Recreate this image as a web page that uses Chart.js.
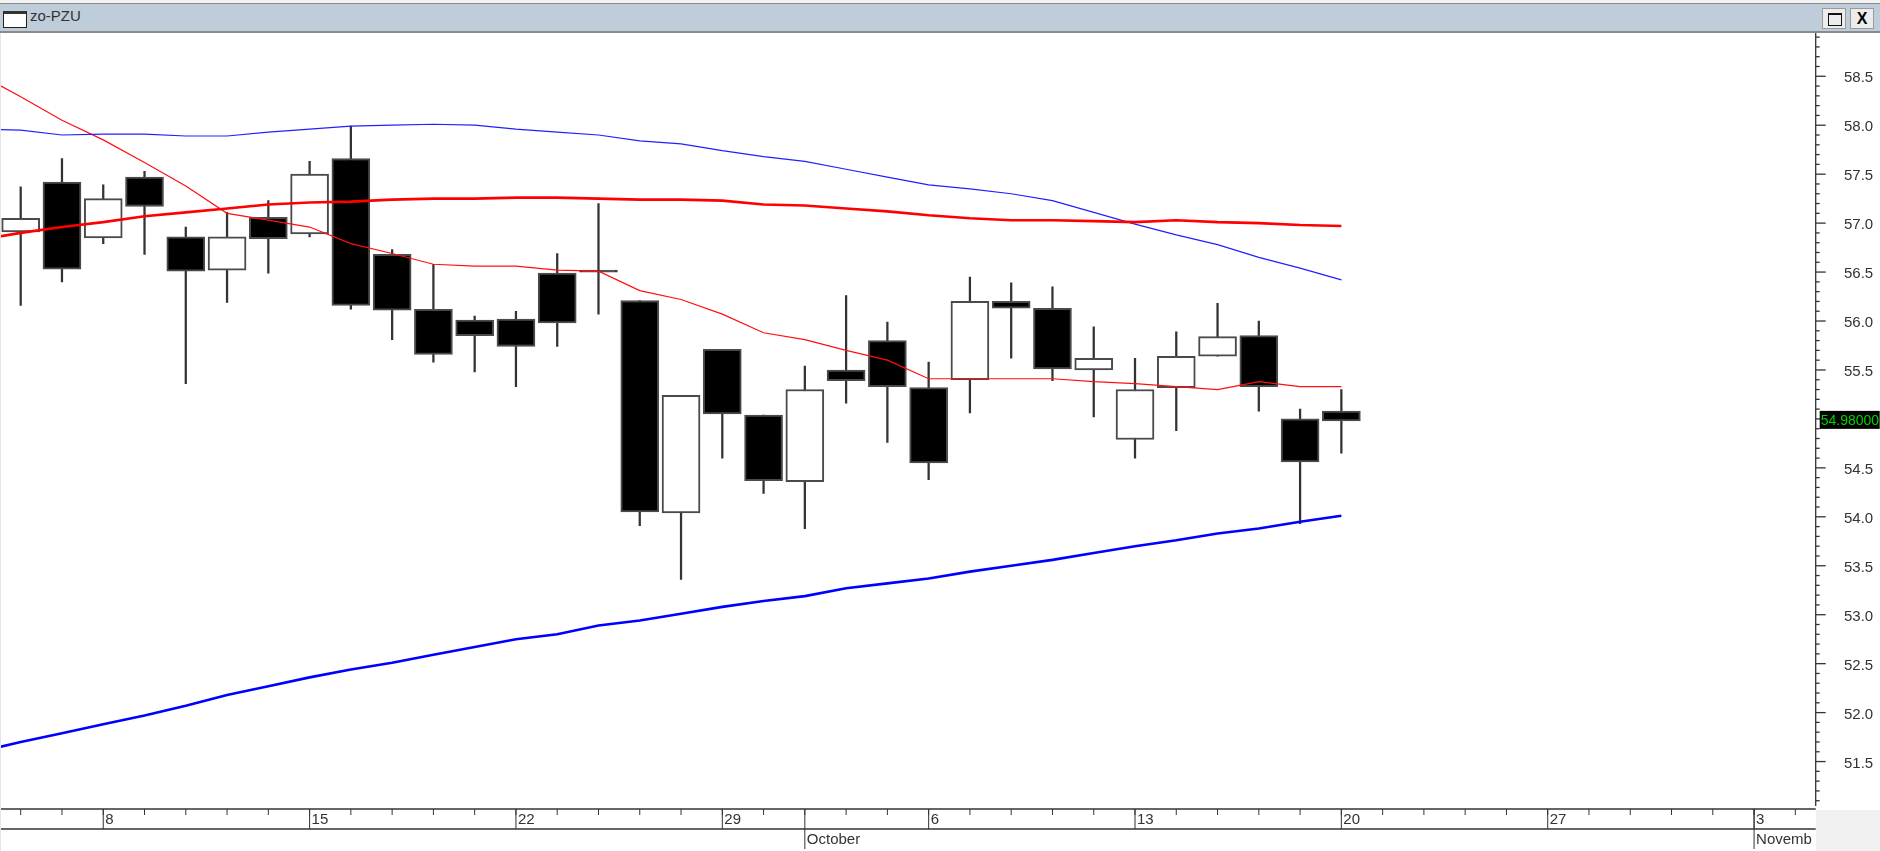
<!DOCTYPE html>
<html>
<head>
<meta charset="utf-8">
<title>zo-PZU</title>
<script src="https://cdn.jsdelivr.net/npm/chart.js@4"></script>
<style>
    html, body { margin: 0; padding: 0; background: #fff; overflow: hidden; }
    body { width: 1880px; height: 851px; position: relative; font-family: "Liberation Sans", Arial, sans-serif; }
    #chart { position: absolute; left: 0; top: 0; }
    #top-strip { position: absolute; left: 0; top: 0; width: 1880px; height: 4px; background: #f2f2f2; border-bottom: 1px solid #8c8c8c; box-sizing: border-box; }
    #title-bar { position: absolute; left: 0; top: 4px; width: 1880px; height: 29px; background: #bfcddb; border-bottom: 2px solid #8a8a8a; box-sizing: border-box; }
    #title-icon { position: absolute; left: 3px; top: 7px; width: 22px; height: 13px; background: #fff; border: 1px solid #222; border-top: 3px solid #333; }
    #title-text { position: absolute; left: 30px; top: 2px; font-size: 15px; line-height: 20px; color: #333; }
    .win-btn { position: absolute; top: 4px; width: 24px; height: 21px; background: #ececec; border: 1px solid #9a9a9a; box-sizing: border-box; text-align: center; color: #000; }
    #btn-max { left: 1822px; }
    #btn-max div { position: absolute; left: 5px; top: 4px; width: 12px; height: 10px; border: 1px solid #111; border-top: 2px solid #111; }
    #btn-close { left: 1850px; font: bold 16px/19px "Liberation Sans", Arial, sans-serif; }
    #corner { position: absolute; left: 1816px; top: 810px; width: 64px; height: 41px; background: #f0f0f0; }
    #left-edge { position: absolute; left: 0; top: 33px; width: 1px; height: 818px; background: #e6e6e6; }
</style>
</head>
<body>
<canvas id="chart" width="1880" height="851"></canvas>
<div id="left-edge"></div>
<div id="corner"></div>
<div id="top-strip"></div>
<div id="title-bar">
    <div id="title-icon"></div>
    <div id="title-text">zo-PZU</div>
    <div class="win-btn" id="btn-max"><div></div></div>
    <div class="win-btn" id="btn-close">X</div>
</div>
<script>
// candles, Sep 4 .. Oct 20, one per trading day
const opens = [56.91, 57.42, 56.85, 57.47, 56.86, 56.52, 57.06, 56.89, 57.66, 56.68, 56.12, 56.01, 56.02, 56.49, 56.52,
    56.21, 54.04, 55.71, 55.04, 54.36, 55.50, 55.80, 55.32, 55.40, 56.20, 56.13, 55.50, 54.79, 55.32, 55.64, 55.85, 55.00, 55.08];
const closes = [57.05, 56.53, 57.25, 57.17, 56.51, 56.86, 56.84, 57.50, 56.16, 56.11, 55.66, 55.85, 55.74, 55.98, 56.50,
    54.05, 55.24, 55.05, 54.37, 55.30, 55.39, 55.33, 54.55, 56.20, 56.13, 55.51, 55.62, 55.30, 55.64, 55.84, 55.33, 54.56, 54.98];
const highs = [57.37, 57.66, 57.39, 57.53, 56.96, 57.11, 57.23, 57.63, 57.99, 56.73, 56.58, 56.05, 56.10, 56.69, 57.20,
    56.21, 55.24, 55.71, 55.04, 55.54, 56.26, 55.99, 55.58, 56.45, 56.39, 56.35, 55.94, 55.62, 55.89, 56.18, 56.00, 55.10, 55.30];
const lows = [56.16, 56.40, 56.79, 56.68, 55.36, 56.19, 56.49, 56.86, 56.12, 55.81, 55.58, 55.48, 55.33, 55.74, 56.07,
    53.91, 53.36, 54.60, 54.24, 53.88, 55.16, 54.76, 54.38, 55.06, 55.62, 55.39, 55.02, 54.60, 54.88, 55.64, 55.08, 53.93, 54.65];

// indicator lines start one bar before the first candle (clipped by the chart edge)
const redThin = [58.52, 58.29, 58.05, 57.85, 57.62, 57.38, 57.10, 57.03, 56.96, 56.79, 56.69, 56.58, 56.56, 56.56, 56.52, 56.51,
    56.31, 56.22, 56.07, 55.88, 55.81, 55.70, 55.60, 55.41, 55.41, 55.41, 55.41, 55.38, 55.36, 55.33, 55.30, 55.38, 55.33, 55.33];
const redThick = [56.83, 56.90, 56.96, 57.01, 57.07, 57.11, 57.15, 57.19, 57.21, 57.22, 57.24, 57.25, 57.25, 57.26, 57.26, 57.25,
    57.24, 57.24, 57.23, 57.19, 57.18, 57.15, 57.12, 57.08, 57.05, 57.03, 57.03, 57.02, 57.01, 57.03, 57.01, 57.00, 56.98, 56.97];
const blueThin = [57.96, 57.95, 57.90, 57.91, 57.91, 57.89, 57.89, 57.93, 57.96, 57.99, 58.00, 58.01, 58.00, 57.96, 57.93, 57.90,
    57.84, 57.81, 57.74, 57.68, 57.63, 57.55, 57.47, 57.39, 57.35, 57.30, 57.23, 57.11, 56.99, 56.88, 56.78, 56.65, 56.54, 56.42];
const blueThick = [51.60, 51.70, 51.79, 51.88, 51.97, 52.07, 52.18, 52.27, 52.36, 52.44, 52.51, 52.59, 52.67, 52.75, 52.80, 52.89,
    52.94, 53.01, 53.08, 53.14, 53.19, 53.27, 53.32, 53.37, 53.44, 53.50, 53.56, 53.63, 53.70, 53.76, 53.83, 53.88, 53.95, 54.01];

// axis labels
const dayLabels = ['8', '15', '22', '29', '6', '13', '20', '27', '3'];
const dayBars = [2, 7, 12, 17, 22, 27, 32, 37, 42];
const monthLabels = ['October', 'Novemb'];
const monthBars = [19, 42];
const priceLabels = ['51.5', '52.0', '52.5', '53.0', '53.5', '54.0', '54.5', '55.0', '55.5', '56.0', '56.5', '57.0', '57.5', '58.0', '58.5'];
const lastPrice = 54.98;
const lastPriceLabel = '54.98000';

const barCount = 44;
const axisColor = '#333';

function toPoints(values) {
    return values.map(function(v, i) {
        return { x: i - 1, y: v };
    });
}

function lineSet(values, color, width) {
    return {
        type: 'line',
        data: toPoints(values),
        borderColor: color,
        borderWidth: width,
        pointRadius: 0,
        tension: 0,
        order: 0
    };
}

const axisPlugin = {
    id: 'axisPlugin',
    afterDraw: function(chart) {
        const ctx = chart.ctx;
        const xs = chart.scales.x;
        const ys = chart.scales.y;
        const area = chart.chartArea;
        const rowTop = 809;
        const rowMid = 829;
        const rowEnd = 849;

        ctx.save();
        ctx.strokeStyle = axisColor;
        ctx.fillStyle = axisColor;
        ctx.lineWidth = 1.3;
        ctx.font = '15px "Liberation Sans", Arial, sans-serif';
        ctx.textBaseline = 'middle';
        ctx.textAlign = 'left';

        function seg(x1, y1, x2, y2) {
            ctx.beginPath();
            ctx.moveTo(x1, y1);
            ctx.lineTo(x2, y2);
            ctx.stroke();
        }

        // price axis, labels sit a little under their tick
        seg(area.right, area.top, area.right, area.bottom);
        ys.ticks.forEach(function(t) {
            const y = ys.getPixelForValue(t.value);
            seg(area.right, y, area.right + (t.label ? 10 : 4), y);
            if (t.label) {
                ctx.fillText(t.label, 1844, y + 2);
            }
        });

        // date axis, two rows
        seg(0, rowTop, area.right, rowTop);
        seg(0, rowMid, area.right, rowMid);
        ctx.lineWidth = 1;
        for (let i = 0; i < barCount; i++) {
            seg(xs.getPixelForValue(i), rowTop, xs.getPixelForValue(i), rowTop + 6);
        }

        dayBars.forEach(function(bar, i) {
            const x = xs.getPixelForValue(bar);
            seg(x, rowTop, x, rowMid);
            ctx.fillText(dayLabels[i], x + 2, rowTop + 11);
        });
        monthBars.forEach(function(bar, i) {
            const x = xs.getPixelForValue(bar);
            seg(x, rowTop, x, rowEnd);
            ctx.fillText(monthLabels[i], x + 2, rowMid + 11);
        });

        // last price marker
        const py = ys.getPixelForValue(lastPrice);
        ctx.fillStyle = '#000';
        ctx.fillRect(area.right + 4, py - 10, 60, 18);
        ctx.fillStyle = '#00d000';
        ctx.font = '14px "Liberation Sans", Arial, sans-serif';
        ctx.fillText(lastPriceLabel, area.right + 5, py);
        ctx.restore();
    }
};

document.addEventListener('DOMContentLoaded', function() {
    const bodyColors = opens.map(function(o, i) {
        return closes[i] < o ? '#000' : '#fff';
    });

    new Chart(document.getElementById('chart'), {
        type: 'bar',
        data: {
            datasets: [
                lineSet(blueThick, '#0000ff', 2.6),
                lineSet(redThick, '#ff0000', 2.6),
                lineSet(blueThin, '#2020ff', 1.2),
                lineSet(redThin, '#ff1010', 1.2),
                {
                    data: opens.map(function(o, i) {
                        return { x: i, y: [o, closes[i]] };
                    }),
                    backgroundColor: bodyColors,
                    borderColor: '#4a4a4a',
                    borderWidth: 2,
                    borderSkipped: false,
                    barThickness: 38,
                    grouped: false,
                    order: 1
                },
                {
                    data: lows.map(function(l, i) {
                        return { x: i, y: [l, highs[i]] };
                    }),
                    backgroundColor: '#333',
                    borderWidth: 0,
                    barThickness: 1.6,
                    grouped: false,
                    order: 2
                }
            ]
        },
        options: {
            responsive: false,
            animation: false,
            events: [],
            layout: { padding: { top: 33, left: 0, right: 0, bottom: 0 } },
            plugins: { legend: { display: false }, tooltip: { enabled: false } },
            scales: {
                x: {
                    type: 'linear',
                    min: -0.5016,
                    max: 43.4935,
                    offset: false,
                    grid: { display: false },
                    border: { display: false },
                    ticks: { display: false },
                    afterFit: function(scale) {
                        scale.height = 45;
                    }
                },
                y: {
                    position: 'right',
                    min: 51.046,
                    max: 58.942,
                    grid: { display: false },
                    border: { display: false },
                    ticks: {
                        display: false,
                        autoSkip: false,
                        callback: function(value) {
                            const label = value.toFixed(1);
                            return priceLabels.includes(label) ? label : '';
                        }
                    },
                    afterBuildTicks: function(scale) {
                        const ticks = [];
                        for (let t = 511; t <= 589; t++) {
                            ticks.push({ value: t / 10 });
                        }
                        scale.ticks = ticks;
                    },
                    afterFit: function(scale) {
                        scale.width = 64.3;
                        scale.paddingTop = 0;
                        scale.paddingBottom = 0;
                    }
                }
            }
        },
        plugins: [axisPlugin]
    });
});
</script>
</body>
</html>
